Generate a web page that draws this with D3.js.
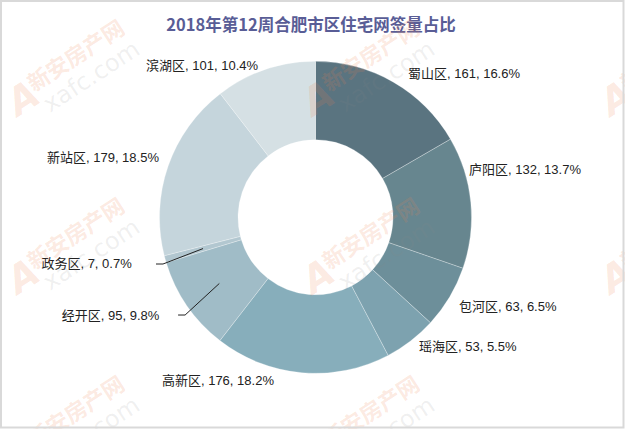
<!DOCTYPE html>
<html><head><meta charset="utf-8">
<script src="https://cdn.jsdelivr.net/npm/d3@7"></script>
<style>html,body{margin:0;padding:0;background:#fff;}svg{display:block;}</style>
</head><body>
<svg id="chart" width="625" height="429"></svg>
<script>
// ---- data ----
const titleText = "2018年第12周合肥市区住宅网签量占比";
const districts = ["蜀山区","庐阳区","包河区","瑶海区","高新区","经开区","政务区","新站区","滨湖区"];
const counts    = [161, 132, 63, 53, 176, 95, 7, 179, 101];
const percents  = ["16.6%","13.7%","6.5%","5.5%","18.2%","9.8%","0.7%","18.5%","10.4%"];
const sliceColors = ["#5a7480","#67868f","#6d8f9a","#7da2af","#87aebb","#a0bcc7","#b2c7d0","#c5d5dc","#d5e0e4"];

// ---- layout ----
const W = 625, H = 429;
const cx = 315.5, cy = 217.3, R = 156, r0 = 77.5;
// label offsets relative to the outer point at each slice's mid-angle
const labelLayout = [
  {dx: 14.6, dy: -8.2, side: "start"},
  {dx: -1.8, dy: -32.4, side: "start"},
  {dx: 9.5, dy: 9.8, side: "start"},
  {dx: 8.3, dy: 6.1, side: "start"},
  {dx: -27.9, dy: 8.3, side: "end"},
  {dx: -27.6, dy: 9.3, side: "end", lineGap: 18.7, elbow: 7},
  {dx: -33.5, dy: 4.9, side: "end", lineGap: 24.3, elbow: 7},
  {dx: -9.1, dy: -9.3, side: "end"},
  {dx: -7.2, dy: -4.6, side: "end"}
];

const svg = d3.select("#chart");
svg.append("rect").attr("x",0).attr("y",0).attr("width",W).attr("height",H).attr("fill","#fff");

svg.append("text").attr("x", 311).attr("y", 24).attr("text-anchor","middle")
  .attr("dominant-baseline","central")
  .attr("font-family","'Noto Sans CJK SC', 'Liberation Sans', sans-serif")
  .attr("font-size", 16.5).attr("font-weight","bold").attr("fill","#595d96")
  .text(titleText);

const data = districts.map((d,i)=>({name:d, value:counts[i], pct:percents[i], color:sliceColors[i], i}));
const pie = d3.pie().value(d=>d.value).sort(null).startAngle(0).endAngle(2*Math.PI);
const arcs = pie(data);
const arc = d3.arc().innerRadius(r0).outerRadius(R);

const g = svg.append("g").attr("transform",`translate(${cx},${cy})`);
g.selectAll("path.slice").data(arcs).join("path").attr("class","slice")
  .attr("d", arc).attr("fill", d=>d.data.color)
  .attr("stroke","rgba(255,255,255,0.35)").attr("stroke-width",0.8);

const fontFam = "'Liberation Sans', 'Noto Sans CJK SC', Arial, sans-serif";
arcs.forEach((a, k) => {
  const mid = (a.startAngle + a.endAngle)/2;
  const ox = Math.sin(mid)*R, oy = -Math.cos(mid)*R;
  const L = labelLayout[k];
  const tx = ox + L.dx, ty = oy + L.dy;
  g.append("text").attr("x", tx).attr("y", ty)
    .attr("text-anchor", L.side).attr("dominant-baseline","central")
    .attr("font-family", fontFam).attr("font-size", 13).attr("fill","#222")
    .text(`${a.data.name}, ${a.data.value}, ${a.data.pct}`);
  if (L.lineGap !== undefined) {
    const rm = (R + r0)/2;
    const px = Math.sin(mid)*rm, py = -Math.cos(mid)*rm;
    const ex = tx + L.lineGap;
    g.append("polyline")
      .attr("points", `${px},${py} ${ex+L.elbow},${ty} ${ex},${ty}`)
      .attr("fill","none").attr("stroke","#222").attr("stroke-width",1);
  }
});

// watermark tiles
const wm = svg.append("g").attr("pointer-events","none");
const origins = [];
[18, 313, 611].forEach(x => [117, 295, 473].forEach(y => origins.push([x,y])));
origins.forEach(([x,y]) => {
  const t = wm.append("g").attr("transform",`translate(${x},${y}) rotate(-33)`);
  t.append("text").attr("x",0).attr("y",0).attr("font-family","'DejaVu Sans', sans-serif")
    .attr("font-size",38).attr("font-weight","bold").attr("font-style","italic")
    .attr("fill","#f08050").attr("fill-opacity",0.18).text("A");
  t.append("text").attr("x",27).attr("y",-12).attr("font-family","'Noto Sans CJK SC', sans-serif")
    .attr("font-size",22).attr("font-weight","bold")
    .attr("fill","#f08050").attr("fill-opacity",0.18).text("新安房产网");
  t.append("text").attr("x",29).attr("y",14).attr("font-family","'DejaVu Sans', sans-serif")
    .attr("font-size",24)
    .attr("fill","#888").attr("fill-opacity",0.13).text("xafc.com");
});

svg.append("rect").attr("x",1).attr("y",1).attr("width",622.5).attr("height",426.5)
  .attr("fill","none").attr("stroke","#d9d9d9").attr("stroke-width",2);
</script>
</body></html>
